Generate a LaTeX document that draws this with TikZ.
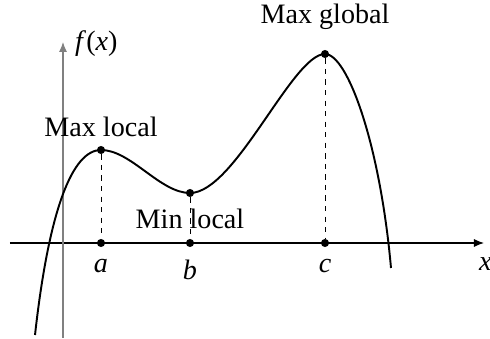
\documentclass[tikz,border=0pt]{standalone}
\usepackage{fontspec}
\setmainfont{Liberation Serif}
\usepackage{tikz}
\usetikzlibrary{arrows.meta, positioning}
\tikzset{
  axisline/.style={-{Latex[length=2mm, width=1.6mm]}, line width=0.6pt},
  dropline/.style={dashed, line width=0.5pt},
  critdot/.style={circle, fill=black, inner sep=0pt, minimum size=4.6pt}
}

\begin{document}
\begin{tikzpicture}[
  curvelabel/.style={font=\fontsize{16}{19}\selectfont},
  ticklabel/.style={font=\fontsize{16}{19}\selectfont\itshape}
]
\useasboundingbox (0,0) rectangle (9.8,6.78);

% Axes
\coordinate (xstart) at (0.2,1.92);
\coordinate (xend) at (9.68,1.92);
\coordinate (ystart) at (1.26,0.02);
\coordinate (yend) at (1.26,5.94);
\draw[axisline] (xstart) -- (xend);
\draw[axisline, gray] (ystart) -- (yend);
\node[ticklabel, anchor=west] (xlab) at (9.46,1.5) {x};
\node[ticklabel, anchor=west] (ylab) at (1.38,5.9) {f\/\upshape(\itshape x\/\upshape)};

% Critical points on the curve
\node[critdot] (maxl) at (2.02,3.78) {};
\node[critdot] (minl) at (3.80,2.92) {};
\node[critdot] (maxg) at (6.50,5.70) {};

% Their feet on the x axis
\node[critdot] (a) at (2.02,1.92) {};
\node[critdot] (b) at (3.80,1.92) {};
\node[critdot] (c) at (6.50,1.92) {};
\node[ticklabel] (alab) at (2.02,1.46) {a};
\node[ticklabel] (blab) at (3.80,1.38) {b};
\node[ticklabel] (clab) at (6.50,1.46) {c};

% The function
\coordinate (cstart) at (0.70,0.08);
\coordinate (cend) at (7.82,1.42);
\draw[line width=1.1pt] (cstart) .. controls (0.98,2.6) and (1.45,3.78) .. (maxl.center)
  .. controls (2.62,3.78) and (3.2,2.92) .. (minl.center)
  .. controls (4.7,2.92) and (5.85,5.7) .. (maxg.center)
  .. controls (6.95,5.7) and (7.6,3.9) .. (cend);

% Drop lines
\draw[dropline] (maxl) -- (a);
\draw[dropline] (minl) -- (b);
\draw[dropline] (maxg) -- (c);

% Labels
\node[curvelabel] (maxllab) at (2.02,4.24) {Max local};
\node[curvelabel] (minllab) at (3.80,2.40) {Min local};
\node[curvelabel] (maxglab) at (6.50,6.44) {Max global};

\end{tikzpicture}
\end{document}
